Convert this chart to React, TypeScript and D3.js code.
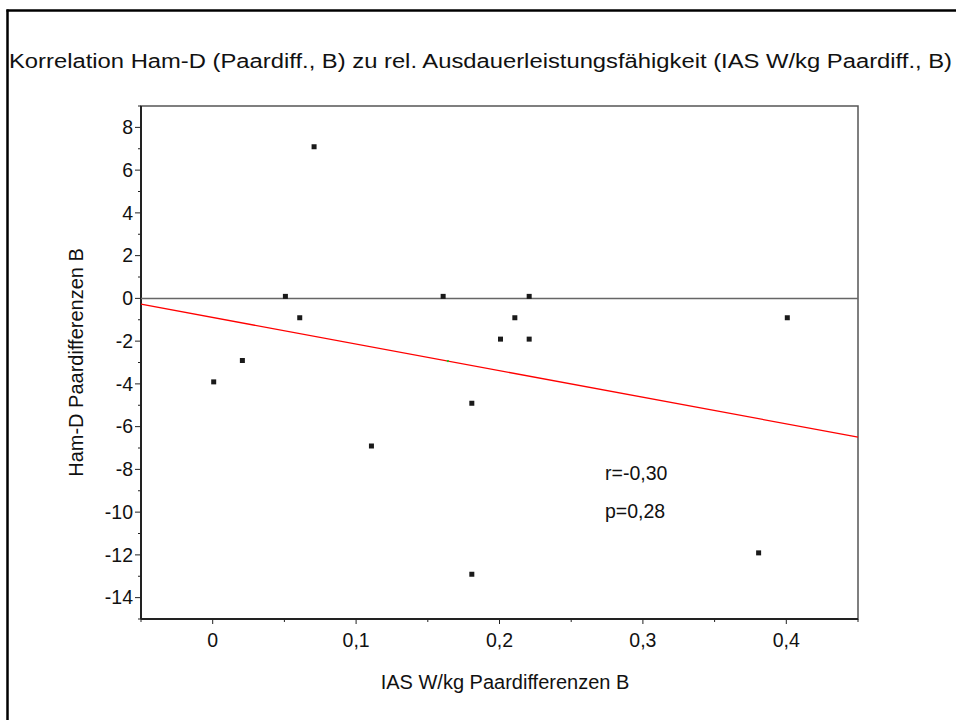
import React from 'react';
import * as d3 from 'd3';

// IAS W/kg pair differences (x) and Ham-D pair differences (y)
const iasDiff = [0, 0.02, 0.05, 0.06, 0.07, 0.11, 0.16, 0.18, 0.18, 0.2, 0.21, 0.22, 0.22, 0.38, 0.4];
const hamDiff = [-4, -3, 0, -1, 7, -7, 0, -5, -13, -2, -1, 0, -2, -12, -1];

const xMajorTicks = [0, 0.1, 0.2, 0.3, 0.4];
const xMinorTicks = [-0.05, 0.05, 0.15, 0.25, 0.35, 0.45];
const yMajorTicks = [-14, -12, -10, -8, -6, -4, -2, 0, 2, 4, 6, 8];
const yMinorTicks = [-15, -13, -11, -9, -7, -5, -3, -1, 1, 3, 5, 7, 9];

const title = 'Korrelation Ham-D (Paardiff., B) zu rel. Ausdauerleistungsfähigkeit (IAS W/kg Paardiff., B)';
const xLabel = 'IAS W/kg Paardifferenzen B';
const yLabel = 'Ham-D Paardifferenzen B';
const statR = 'r=-0,30';
const statP = 'p=0,28';

const W = 956;
const H = 720;
const margin = { top: 106, right: 98, bottom: 101, left: 141 };
const font = 'Liberation Sans, Arial, sans-serif';

const locale = d3.formatLocale({ decimal: ',', thousands: '.', grouping: [3], currency: ['', ' €'], minus: '-' });
const fmt = locale.format('~g');

export default function App() {
  const x = d3.scaleLinear().domain([-0.05, 0.45]).range([margin.left, W - margin.right]);
  const y = d3.scaleLinear().domain([-15, 9]).range([H - margin.bottom, margin.top]);

  const pts = iasDiff.map((v, i) => ({ x: v, y: hamDiff[i] }));
  const mx = d3.mean(iasDiff) as number;
  const my = d3.mean(hamDiff) as number;
  const sxy = d3.sum(pts, d => (d.x - mx) * (d.y - my));
  const sxx = d3.sum(pts, d => (d.x - mx) ** 2);
  const slope = sxy / sxx;
  const icept = my - slope * mx;
  const [x0, x1] = x.domain();

  const fitLine = d3.line<number>()
    .x(d => x(d))
    .y(d => y(icept + slope * d));

  const left = margin.left;
  const right = W - margin.right;
  const top = margin.top;
  const bottom = H - margin.bottom;

  return (
    <svg width={W} height={H} style={{ position: 'absolute', left: 0, top: 0, background: '#fff' }} fontFamily={font}>
      <rect x={0} y={0} width={W} height={H} fill="#fff" />
      {/* outer frame */}
      <line x1={6.5} x2={W} y1={10.5} y2={10.5} stroke="#000" strokeWidth={2.5} />
      <line x1={7.5} x2={7.5} y1={9.5} y2={H} stroke="#000" strokeWidth={2.5} />

      <text x={9} y={68} fontSize={19.5} fill="#111" textLength={943} lengthAdjust="spacingAndGlyphs">{title}</text>

      {/* plot box */}
      <rect x={left} y={top} width={right - left} height={bottom - top} fill="none" stroke="#555" strokeWidth={1.5} />
      <line x1={left} x2={left} y1={top} y2={bottom} stroke="#222" strokeWidth={2} />
      <line x1={left} x2={right} y1={bottom} y2={bottom} stroke="#222" strokeWidth={2} />

      {/* zero reference */}
      <line x1={left} x2={right} y1={y(0)} y2={y(0)} stroke="#666" strokeWidth={1.5} />

      {/* y axis */}
      {yMajorTicks.map(t => (
        <g key={'ym' + t}>
          <line x1={left - 6} x2={left} y1={y(t)} y2={y(t)} stroke="#222" strokeWidth={1} />
          <text x={left - 8} y={y(t)} dy="0.35em" textAnchor="end" fontSize={19.5} fill="#111">{fmt(t)}</text>
        </g>
      ))}
      {yMinorTicks.map(t => (
        <line key={'yn' + t} x1={left - 3} x2={left} y1={y(t)} y2={y(t)} stroke="#222" strokeWidth={1} />
      ))}

      {/* x axis */}
      {xMajorTicks.map(t => (
        <g key={'xm' + t}>
          <line x1={x(t)} x2={x(t)} y1={bottom} y2={bottom + 5} stroke="#222" strokeWidth={1} />
          <text x={x(t)} y={bottom + 28} textAnchor="middle" fontSize={19.5} fill="#111">{fmt(t)}</text>
        </g>
      ))}
      {xMinorTicks.map(t => (
        <line key={'xn' + t} x1={x(t)} x2={x(t)} y1={bottom} y2={bottom + 3} stroke="#222" strokeWidth={1} />
      ))}

      <text x={505} y={689} textAnchor="middle" fontSize={20} fill="#111">{xLabel}</text>
      <text transform={`translate(76, ${(top + bottom) / 2}) rotate(-90)`} textAnchor="middle" dy="0.35em" fontSize={20} fill="#111">{yLabel}</text>

      {/* regression line */}
      <path d={fitLine([x0, x1]) || ''} fill="none" stroke="#ff0000" strokeWidth={1.3} />
      <rect x={x(mx) - 1} y={y(my) - 1} width={2} height={2} fill="#22cc22" />

      {/* data points */}
      {pts.map((d, i) => (
        <rect key={i} x={x(d.x) + 1 - 2.5} y={y(d.y) - 2 - 2.5} width={5} height={5} fill="#1a1a1a" />
      ))}

      <text x={605} y={480} fontSize={19.5} fill="#111">{statR}</text>
      <text x={605} y={518} fontSize={19.5} fill="#111">{statP}</text>
    </svg>
  );
}
